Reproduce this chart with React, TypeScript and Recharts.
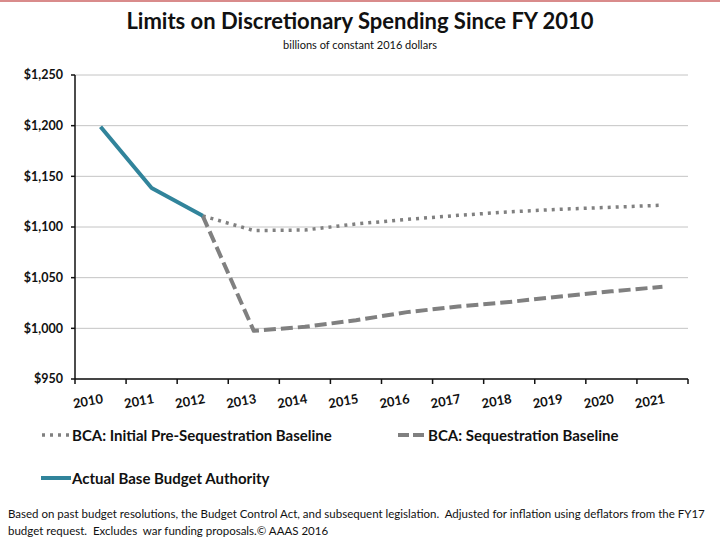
import React from 'react';
import { LineChart, Line, XAxis, YAxis, CartesianGrid } from 'recharts';

// values, billions of constant 2016 dollars
const years = [2010, 2011, 2012, 2013, 2014, 2015, 2016, 2017, 2018, 2019, 2020, 2021];
const actualBase = [1199, 1138.5, 1111, null, null, null, null, null, null, null, null, null];
const preSequestration = [null, null, 1111, 1096.5, 1097, 1103, 1107.5, 1111.5, 1115, 1117.5, 1119.5, 1121.5];
const sequestration = [null, null, 1111, 997.5, 1001.5, 1008, 1016, 1021.5, 1026, 1031.5, 1036.5, 1041];
const yTicks = [950, 1000, 1050, 1100, 1150, 1200, 1250];

const data = years.map((year, i) => ({
    year,
    actual: actualBase[i],
    pre: preSequestration[i],
    seq: sequestration[i],
}));

// ticks sit on the boundaries between fiscal years, labels in the middle
const xBoundaries = [...years.map(y => y - 0.5), years[years.length - 1] + 0.5];

const FONT = 'Lato, "Liberation Sans", sans-serif';
const TEAL = '#31849b';
const GRAY = '#808080';

const money = (v: number) => '$' + v.toLocaleString('en-US');

const YearTick = (props: any) => {
    const { x, y, payload } = props;
    const year = payload.value + 0.5;
    if (!years.includes(year)) return null;
    const cx = x + 25.6 + 3;
    const cy = y + 17;
    return (
        <text x={cx} y={cy} textAnchor="end" fontFamily={FONT} fontWeight={700} fontSize={13} fill="#111"
            transform={`rotate(-10, ${cx}, ${cy})`}>
            {year}
        </text>
    );
};

const App: React.FC = () => {
    return (
        <div style={{ position: 'absolute', left: 0, top: 0, width: 720, height: 540, background: '#fff', fontFamily: FONT, color: '#111' }}>
            <div style={{ position: 'absolute', left: 0, top: 0, width: 720, height: 2, background: '#d98b8b' }} />
            <div style={{ position: 'absolute', left: 0, top: 7, width: 720, textAlign: 'center', fontSize: 22, fontWeight: 700 }}>
                Limits on Discretionary Spending Since FY 2010
            </div>
            <div style={{ position: 'absolute', left: 0, top: 38, width: 720, textAlign: 'center', fontSize: 11 }}>
                billions of constant 2016 dollars
            </div>

            <div style={{ position: 'absolute', left: 0, top: 0 }}>
                <LineChart width={720} height={420} data={data} margin={{ top: 75, right: 32, bottom: 11, left: 8 }}>
                    <CartesianGrid vertical={false} stroke="#c4c4c4" strokeWidth={1} />
                    <XAxis
                        dataKey="year"
                        type="number"
                        domain={[xBoundaries[0], xBoundaries[xBoundaries.length - 1]]}
                        ticks={xBoundaries}
                        interval={0}
                        tick={<YearTick />}
                        tickSize={5}
                        height={30}
                        axisLine={{ stroke: '#111', strokeWidth: 1.5 }}
                        tickLine={{ stroke: '#111', strokeWidth: 1.5 }}
                    />
                    <YAxis
                        domain={[950, 1250]}
                        ticks={yTicks}
                        interval={0}
                        width={67}
                        tickFormatter={money}
                        tickSize={4}
                        tickMargin={8}
                        tick={{ fontFamily: FONT, fontWeight: 700, fontSize: 12.5, fill: '#111' }}
                        axisLine={{ stroke: '#111', strokeWidth: 1.5 }}
                        tickLine={{ stroke: '#111', strokeWidth: 1.5 }}
                    />
                    <Line dataKey="pre" stroke={GRAY} strokeWidth={3.5} strokeDasharray="3 5" dot={false}
                        isAnimationActive={false} />
                    <Line dataKey="seq" stroke={GRAY} strokeWidth={4} strokeDasharray="12 5" dot={false}
                        strokeLinejoin="round" isAnimationActive={false} />
                    <Line dataKey="actual" stroke={TEAL} strokeWidth={4} dot={false}
                        strokeLinejoin="round" isAnimationActive={false} />
                </LineChart>
            </div>

            {/* Legend */}
            <div style={{ position: 'absolute', left: 40, top: 426, display: 'flex', alignItems: 'center', fontSize: 15, fontWeight: 700 }}>
                <svg width={32} height={10}><line x1={2} y1={5} x2={30} y2={5} stroke={GRAY} strokeWidth={3.5} strokeDasharray="3 5" /></svg>
                <span>BCA: Initial Pre-Sequestration Baseline</span>
            </div>
            <div style={{ position: 'absolute', left: 397, top: 426, display: 'flex', alignItems: 'center', fontSize: 15, fontWeight: 700 }}>
                <svg width={31} height={10}><line x1={1} y1={5} x2={30} y2={5} stroke={GRAY} strokeWidth={4} strokeDasharray="11 4" /></svg>
                <span>BCA: Sequestration Baseline</span>
            </div>
            <div style={{ position: 'absolute', left: 40, top: 469, display: 'flex', alignItems: 'center', fontSize: 15, fontWeight: 700 }}>
                <svg width={32} height={10}><line x1={1} y1={5} x2={31} y2={5} stroke={TEAL} strokeWidth={4} /></svg>
                <span>Actual Base Budget Authority</span>
            </div>

            {/* Source note */}
            <div style={{ position: 'absolute', left: 8, top: 505, width: 712, fontSize: 11.5, lineHeight: '17px', whiteSpace: 'nowrap' }}>
                Based on past budget resolutions, the Budget Control Act, and subsequent legislation.&nbsp; Adjusted for inflation using deflators from the FY17
                <br />
                budget request.&nbsp; Excludes&nbsp; war funding proposals.© AAAS 2016
            </div>
        </div>
    );
};

export default App;
